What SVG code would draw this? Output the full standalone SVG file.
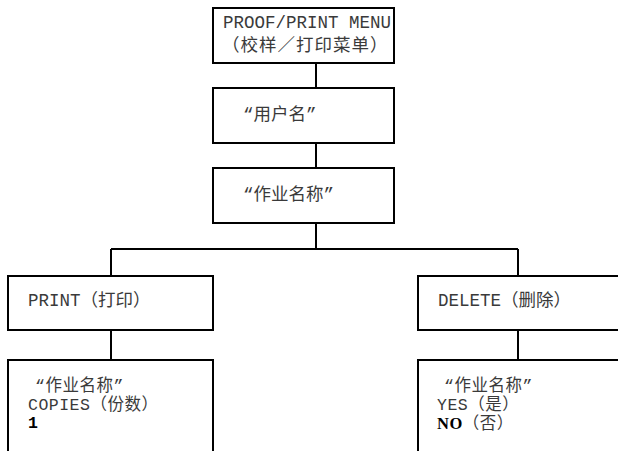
<svg xmlns="http://www.w3.org/2000/svg" width="618" height="451" viewBox="0 0 618 451">
<style>
.box{fill:#fff;stroke:#000;stroke-width:2}
.ln{fill:none;stroke:#000;stroke-width:2}
.t{font-family:"Liberation Mono","Noto Sans CJK SC",monospace;font-size:17.5px;fill:#3a3a3a}
.s{font-size:16.5px;letter-spacing:0.5px}
.cjk{letter-spacing:1px}
.b1{font-family:"Liberation Mono",monospace;font-weight:bold;fill:#000}
.bn{font-family:"Liberation Serif",serif;font-weight:bold;fill:#000}
</style>
<rect width="618" height="451" fill="#fff"/>
<g id="connectors">
<path class="ln" d="M316 63V88M316 143V168M316 223V249M111 249H518M111 249V276M518 249V276M111 330V360M518 330V360"/>
</g>
<g id="menu">
<rect class="box" x="213" y="8" width="181" height="55"/>
<text class="t" x="223" y="28">PROOF/PRINT MENU</text>
<text class="t cjk" x="222" y="51">（校样／打印菜单）</text>
</g>
<g id="username">
<rect class="box" x="213" y="88" width="181" height="55"/>
<text class="t" x="243" y="120">“用户名”</text>
</g>
<g id="jobname">
<rect class="box" x="213" y="168" width="181" height="55"/>
<text class="t" x="243" y="200">“作业名称”</text>
</g>
<g id="print">
<rect class="box" x="8" y="276" width="205" height="54"/>
<text class="t" x="28" y="306">PRINT（打印）</text>
</g>
<g id="print-detail">
<path class="ln" d="M8 455V360H213V455"/>
<text class="t s" x="35" y="391">“作业名称”</text>
<text class="t s" x="28" y="410">COPIES（份数）</text>
<text class="t s b1" x="28" y="428">1</text>
</g>
<g id="delete">
<path class="ln" d="M622 276H418V330H622"/>
<text class="t" x="438" y="306">DELETE（删除）</text>
</g>
<g id="delete-detail">
<path class="ln" d="M418 455V360H622"/>
<text class="t s" x="444" y="391">“作业名称”</text>
<text class="t s" x="437" y="410">YES（是）</text>
<text class="t s" x="437" y="429"><tspan class="bn">NO</tspan>（否）</text>
</g>
</svg>
